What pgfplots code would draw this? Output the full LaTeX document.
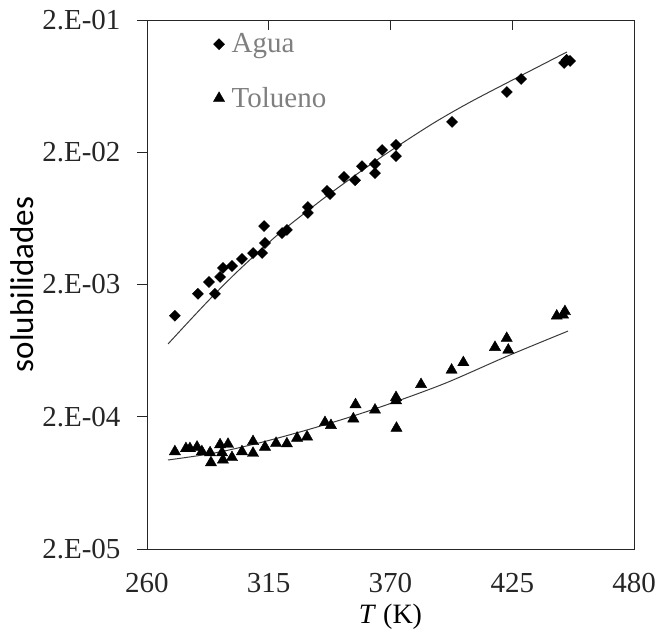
\documentclass[border=0pt]{standalone}
\usepackage{fontspec}
\setmainfont{Liberation Serif}
\newfontfamily\carlito{Carlito}
\usepackage{pgfplots}
\pgfplotsset{compat=1.18}
\definecolor{fitgray}{HTML}{3A3A3A}
\definecolor{leggray}{HTML}{7F7F7F}

\begin{document}
\begin{tikzpicture}
\useasboundingbox (-147pt,-88pt) rectangle (514pt,549pt);
\begin{axis}[
  at={(0,0)}, anchor=south west,
  scale only axis, width=487pt, height=529pt,
  xmin=260, xmax=480,
  ymode=log, ymin=2e-5, ymax=2e-1,
  xtick={260,315,370,425,480},
  xticklabels={260,315,370,425,480},
  ytick={2e-5,2e-4,2e-3,2e-2,2e-1},
  yticklabels={2.E-05,2.E-04,2.E-03,2.E-02,2.E-01},
  yminorticks=false, xminorticks=false,
  xtick pos=upper, xticklabel pos=lower,
  ytick pos=left,
  xtick align=inside, ytick align=outside,
  major tick length=10pt,
  axis line style={line width=0.9pt, black!85},
  tick style={line width=0.9pt, black!85},
  tick label style={font=\fontsize{29}{32}\selectfont, text=black!85},
  xticklabel style={yshift=-21pt},
  yticklabel style={xshift=-13pt},
  xlabel={\textit{T} (K)},
  ylabel={solubilidades},
  every axis x label/.style={at={(axis description cs:0.5,-0.128)}, anchor=center, font=\fontsize{28}{30}\selectfont},
  every axis y label/.style={at={(axis description cs:-0.2555,0.5)}, rotate=90, anchor=center, font=\carlito\fontsize{33}{36}\selectfont},
  legend style={at={(axis description cs:0.136,0.978)}, anchor=north west, draw=none, fill=none,
    font=\fontsize{29}{32}\selectfont, text=leggray, row sep=29pt, inner sep=0pt,
    nodes={inner sep=2pt}, column sep=5pt},
  legend cell align=left,
  legend image code/.code={\draw[#1] plot coordinates {(0.25cm,0cm)};},
]
\addplot[only marks, mark=square*, mark size=3.9pt, mark options={rotate=45, black}] table {
272.6 1.16e-3
283.0 1.70e-3
288.0 2.09e-3
290.7 1.70e-3
293.0 2.28e-3
294.3 2.67e-3
298.4 2.76e-3
302.9 3.12e-3
307.9 3.46e-3
312.0 3.46e-3
312.9 5.53e-3
313.3 4.12e-3
321.0 4.90e-3
323.2 5.17e-3
332.7 7.71e-3
332.7 6.95e-3
341.3 1.02e-2
342.7 9.66e-3
349.0 1.30e-2
354.0 1.23e-2
357.1 1.57e-2
363.0 1.63e-2
363.0 1.39e-2
366.2 2.08e-2
372.5 2.27e-2
372.5 1.87e-2
397.8 3.39e-2
422.6 5.71e-2
429.0 7.16e-2
448.4 9.46e-2
451.1 9.80e-2
449.6 1.00e-1
};
\addlegendentry{Agua}
\addplot[only marks, mark=triangle*, mark size=6.5pt, mark options={black}] table {
272.6 1.09e-4
277.6 1.15e-4
279.4 1.15e-4
282.6 1.18e-4
284.8 1.09e-4
288.5 1.07e-4
288.9 8.99e-5
293.0 1.23e-4
293.9 1.07e-4
294.3 9.42e-5
296.6 1.24e-4
298.4 9.84e-5
302.9 1.09e-4
307.9 1.30e-4
307.9 1.06e-4
313.3 1.18e-4
318.3 1.26e-4
323.2 1.25e-4
327.8 1.38e-4
332.3 1.41e-4
340.4 1.81e-4
343.1 1.72e-4
354.2 2.47e-4
353.2 1.93e-4
363.0 2.25e-4
372.5 2.80e-4
372.5 2.65e-4
372.7 1.64e-4
383.8 3.51e-4
397.6 4.51e-4
402.9 5.14e-4
417.2 6.70e-4
422.5 7.84e-4
423.2 6.39e-4
445.1 1.156e-3
448.8 1.25e-3
447.9 1.18e-3
};
\addlegendentry{Tolueno}
\addplot[fitgray, line width=1pt, smooth, no marks, forget plot] table {
269.5 7.10e-4
280.0 1.10e-3
290.7 1.70e-3
300.0 2.43e-3
310.0 3.48e-3
320.0 4.91e-3
332.0 7.10e-3
345.0 1.04e-2
365.0 1.80e-2
388.0 3.21e-2
405.0 4.69e-2
425.0 7.02e-2
449.7 0.1146
};
\addplot[fitgray, line width=1pt, smooth, no marks, forget plot] table {
269.5 9.42e-5
290.0 1.06e-4
310.0 1.26e-4
330.0 1.55e-4
350.0 1.95e-4
370.0 2.52e-4
395.0 3.60e-4
423.0 5.77e-4
450.2 8.89e-4
};
\end{axis}
\end{tikzpicture}
\end{document}
